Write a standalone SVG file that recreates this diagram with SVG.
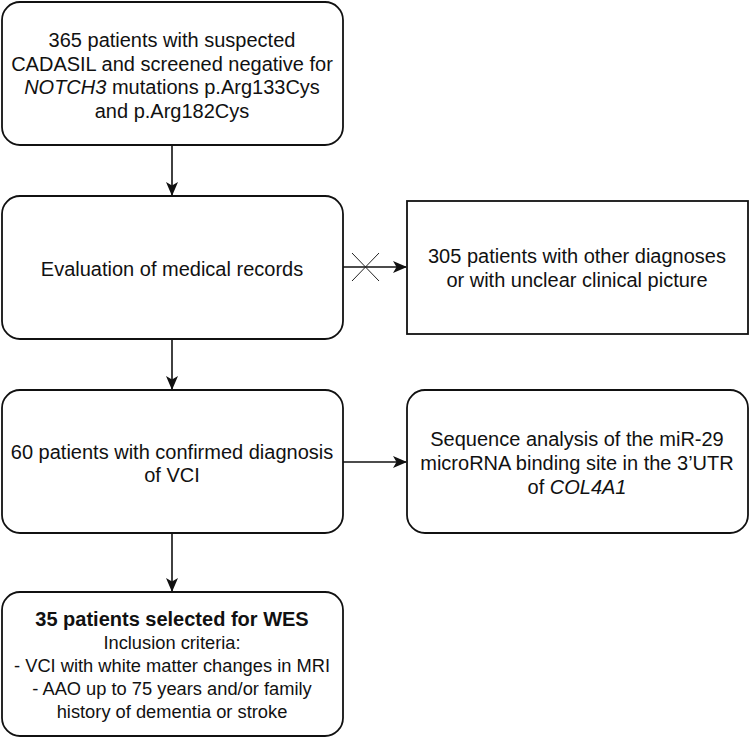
<svg xmlns="http://www.w3.org/2000/svg" width="750" height="738" viewBox="0 0 750 738">
<style>
.box{fill:#fff;stroke:#111;stroke-width:1.8}
.t{font-family:"Liberation Sans",Arial,sans-serif;font-size:20px;fill:#111;text-anchor:middle}
.s{font-size:18.3px}
.b{font-weight:bold;font-size:20px}
.i{font-style:italic}
.c{stroke:#111;stroke-width:1.6;fill:none}
.x{stroke:#222;stroke-width:1}
</style>
<defs>
<marker id="ah" markerWidth="14" markerHeight="14" refX="13" refY="7" orient="auto" markerUnits="userSpaceOnUse">
<path d="M0,1 L14,7 L0,13 L3.5,7 Z" fill="#111"/>
</marker>
</defs>
<rect width="750" height="738" fill="#fff"/>
<g id="connectors">
<line class="c" x1="172" y1="145" x2="172" y2="195" marker-end="url(#ah)"/>
<line class="c" x1="172" y1="339" x2="172" y2="389" marker-end="url(#ah)"/>
<line class="c" x1="172" y1="533" x2="172" y2="591" marker-end="url(#ah)"/>
<line class="c" x1="343" y1="267" x2="406" y2="267" marker-end="url(#ah)"/>
<line class="x" x1="352" y1="253" x2="379" y2="281"/>
<line class="x" x1="352" y1="281" x2="379" y2="253"/>
<line class="c" x1="343" y1="462" x2="406" y2="462" marker-end="url(#ah)"/>
</g>
<g id="n1">
<rect class="box" x="2" y="2" width="341" height="143" rx="18"/>
<text class="t" x="172" y="47">365 patients with suspected</text>
<text class="t" x="172" y="71">CADASIL and screened negative for</text>
<text class="t" x="172" y="94"><tspan class="i">NOTCH3</tspan> mutations p.Arg133Cys</text>
<text class="t" x="172" y="118">and p.Arg182Cys</text>
</g>
<g id="n2">
<rect class="box" x="2" y="196" width="341" height="143" rx="18"/>
<text class="t" x="172" y="276">Evaluation of medical records</text>
</g>
<g id="n3">
<rect class="box" x="407" y="201" width="341" height="133"/>
<text class="t" x="577" y="263">305 patients with other diagnoses</text>
<text class="t" x="577" y="287">or with unclear clinical picture</text>
</g>
<g id="n4">
<rect class="box" x="2" y="390" width="341" height="143" rx="18"/>
<text class="t" x="172" y="459">60 patients with confirmed diagnosis</text>
<text class="t" x="172" y="482">of VCI</text>
</g>
<g id="n5">
<rect class="box" x="407" y="390" width="341" height="143" rx="18"/>
<text class="t" x="577" y="446">Sequence analysis of the miR-29</text>
<text class="t" x="577" y="470">microRNA binding site in the 3’UTR</text>
<text class="t" x="577" y="494">of <tspan class="i">COL4A1</tspan></text>
</g>
<g id="n6">
<rect class="box" x="2" y="592" width="341" height="144" rx="18"/>
<text class="t b" x="172" y="626">35 patients selected for WES</text>
<text class="t s" x="172" y="649">Inclusion criteria:</text>
<text class="t s" x="172" y="672">- VCI with white matter changes in MRI</text>
<text class="t s" x="172" y="695">- AAO up to 75 years and/or family</text>
<text class="t s" x="172" y="718">history of dementia or stroke</text>
</g>
</svg>
